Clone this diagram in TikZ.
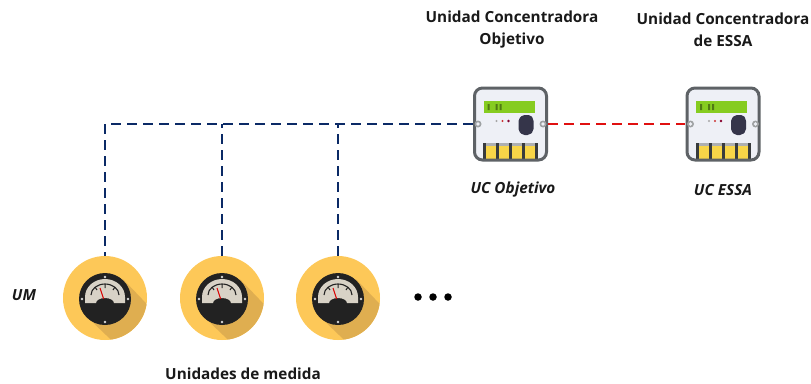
\documentclass[tikz,border=0pt]{standalone}
\usepackage{fontspec}
\setmainfont{Open Sans}
\definecolor{linkblue}{HTML}{0B2A66}
\definecolor{linkred}{HTML}{E01010}
\definecolor{umyellow}{HTML}{FDC858}
\definecolor{umshadow}{HTML}{DFAE50}
\definecolor{umdark}{HTML}{222222}
\definecolor{umface}{HTML}{D8D2C6}
\definecolor{ucframe}{HTML}{5E6266}
\definecolor{ucbody}{HTML}{EEF0F6}
\definecolor{ucgreen}{HTML}{86CC20}
\definecolor{ucyellow}{HTML}{F8D548}
\definecolor{ucknob}{HTML}{35354A}
\tikzset{
  x=1pt,y=-1pt,
  lab/.style={font=\bfseries\fontsize{15.3}{22}\selectfont,align=center,text=black!90,inner sep=0pt},
  labit/.style={lab,font=\bfseries\itshape\fontsize{15.3}{22}\selectfont},
  umnode/.style={circle,minimum size=84pt,inner sep=0pt,fill=umyellow},
  ucnode/.style={rectangle,minimum width=75pt,minimum height=76pt,inner sep=0pt},
  dotnode/.style={circle,fill=black,minimum size=7.5pt,inner sep=0pt},
  link/.style={line width=2pt,dash pattern=on 10pt off 6pt},
  pics/umeter/.style={code={
    \begin{scope}
      \clip (0,0) circle (42);
      \fill[umshadow] (-18.4,18.4) -- (18.4,-18.4) -- (60,25) -- (25,60) -- cycle;
    \end{scope}
    \fill[umdark] (0,1) circle (26);
    \fill[umface] (-20,5) -- (-20,-1) arc[start angle=180,end angle=0,radius=20,y radius=-18] -- (20,5) -- (9,5)
       arc[start angle=0,end angle=180,radius=9,y radius=-5] -- cycle;
    \draw[umdark,line width=1.1pt] (-14,-3) arc[start angle=180,end angle=0,radius=14,y radius=-11];
    \draw[umdark,line width=1pt] (0,-14) -- (0,-10) (-10,-11) -- (-8,-8) (10,-11) -- (8,-8);
    \draw[red!85!black,line width=1pt] (-5,-10) -- (0,5);
    \fill[umdark] (0,5) ellipse (6 and 4);
    \foreach \a/\b in {0/-21,0/24,-23/1,23/1} \fill[white!85!black] (\a,\b) circle (1.4);
  }},
  pics/uconc/.style={code={
    \fill[ucbody] (-35,-35) rectangle (35,35);
    \fill[ucyellow] (-26,19) rectangle (26,36);
    \foreach \q in {-26,-13,0,13,26} \fill[ucframe!60!black] (\q-1.5,19) rectangle (\q+1.5,36);
    \foreach \q in {-19.5,-6.5,6.5,19.5} \fill[ucframe!50] (\q-5,19) rectangle (\q+5,22);
    \draw[ucframe,line width=3pt,rounded corners=8pt] (-36,-36) rectangle (36,36);
    \fill[ucframe!60] (-32.5,0) circle (3.5) (32.5,0) circle (3.5);
    \fill[ucbody] (-32.5,0) circle (1.8) (32.5,0) circle (1.8);
    \fill[ucgreen] (-27,-23) rectangle (24,-11);
    \fill[ucgreen!60!black] (-23,-20) rectangle (-21,-14) (-15,-20) rectangle (-13,-14) (-11,-20) rectangle (-9,-14);
    \fill[gray!70] (-14,-3) circle (1.2);
    \fill[red!60!gray] (-8,-3) circle (1.2);
    \fill[purple!70!black] (-2,-3) circle (1.4);
    \fill[ucknob,rounded corners=2pt] (8,-5) -- (12,-9) -- (20,-9) -- (23,-5) -- (23,7) -- (19,11) -- (12,11) -- (8,7) -- cycle;
  }}
}
\begin{document}
\begin{tikzpicture}
\useasboundingbox (0,0) rectangle (811,383);
\node[ucnode] (uc1) at (510.5,124) {};
\node[ucnode] (uc2) at (723,124) {};
\node[umnode] (um1) at (105,298) {};
\node[umnode] (um2) at (222,298) {};
\node[umnode] (um3) at (338,298) {};
\foreach \n in {um1,um2,um3} \pic at (\n) {umeter};
\foreach \n in {uc1,uc2} \pic at (\n) {uconc};
\draw[link,linkblue] (uc1.west) -| (um1.north);
\draw[link,linkblue] (um2.north) -- (um2.north |- uc1.west);
\draw[link,linkblue] (um3.north) -- (um3.north |- uc1.west);
\draw[link,linkred] (uc1.east) -- (uc2.west);
\node[lab] (t1) at (512,30) {Unidad Concentradora\\Objetivo};
\node[lab] (t2) at (723,30) {Unidad Concentradora\\de ESSA};
\node[labit] (t3) at (513,190) {UC Objetivo};
\node[labit] (t4) at (723,190) {UC ESSA};
\node[labit] (t5) at (24,295) {UM};
\node[lab] (t6) at (243,374) {Unidades de medida};
\foreach \q/\n in {418/d1,433/d2,448/d3} \node[dotnode] (\n) at (\q,297) {};
\end{tikzpicture}
\end{document}
